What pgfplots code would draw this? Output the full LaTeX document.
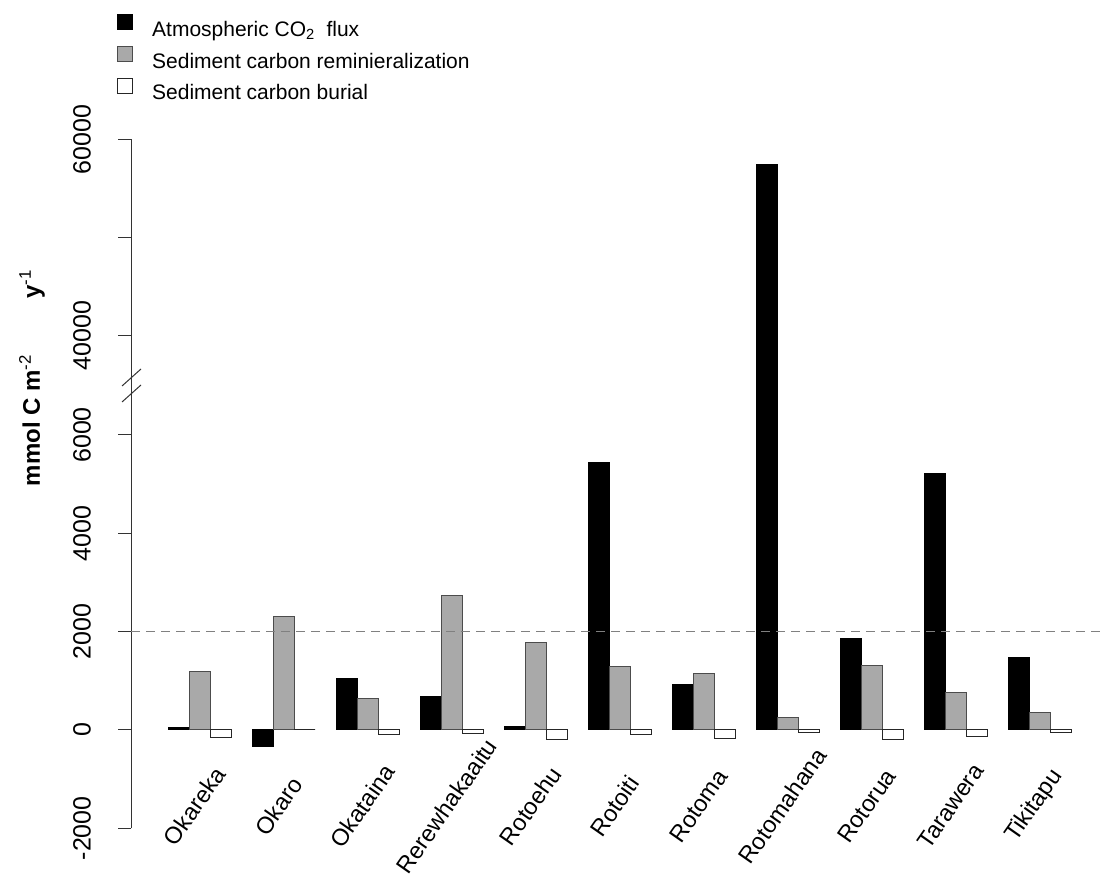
\documentclass[border=0pt]{standalone}
\usepackage{fontspec}
\setmainfont{Liberation Sans}
\usepackage{pgfplots}
\pgfplotsset{compat=1.18}
\definecolor{bargray}{RGB}{169,169,169}
\definecolor{dashgray}{RGB}{128,128,128}
\begin{document}
\begin{tikzpicture}[x=1pt,y=1pt]
\path[use as bounding box] (0,0) rectangle (1104,878);
% lower part of the broken axis
\begin{axis}[
  at={(131pt,49.7pt)}, anchor=south west,
  scale only axis, width=973pt, height=443.5pt,
  xmin=-0.762, xmax=45.571, ymin=-2000, ymax=7020,
  ybar, bar width=1,
  axis y line*=left, axis x line*=bottom,
  x axis line style={draw=none},
  y axis line style={black!80, line width=1pt},
  xtick={2.5,6.5,10.5,14.5,18.5,22.5,26.5,30.5,34.5,38.5,42.5},
  xticklabels={Okareka,Okaro,Okataina,Rerewhakaaitu,Rotoehu,Rotoiti,Rotoma,Rotomahana,Rotorua,Tarawera,Tikitapu},
  xtick style={draw=none},
  xticklabel style={font=\fontsize{23.5}{28}\selectfont, xshift=-5pt, yshift=35.3pt, rotate=55, anchor=center, inner sep=0pt},
  ytick={-2000,0,2000,4000,6000},
  yticklabels={-2000,0,2000,4000,6000},
  scaled y ticks=false,
  ytick style={black!80, line width=1pt},
  tick align=outside, major tick length=13pt,
  yticklabel style={font=\fontsize{25}{30}\selectfont, xshift=-27pt, rotate=90, anchor=south, inner sep=0pt},
  legend style={at={(axis description cs:-0.0144,1.837)}, anchor=north west,
    draw=none, fill=none, inner sep=0pt, row sep=8pt, column sep=19pt,
    font=\fontsize{21}{25}\selectfont,
    nodes={inner sep=0pt}},
  legend cell align=left,
  legend image code/.code={\draw[#1, line width=1pt, bar shift=0pt] (0pt,0pt) rectangle (15pt,15pt);},
]
\addplot[fill=black, draw=black, line width=1pt, bar shift=-1] coordinates {
  (2.5,40) (6.5,-330) (10.5,1045) (14.5,690) (18.5,65) (22.5,5435)
  (26.5,915) (30.5,57400) (34.5,1860) (38.5,5210) (42.5,1470)};
\addplot[fill=bargray, draw=black!70, line width=1pt, bar shift=0] coordinates {
  (2.5,1190) (6.5,2310) (10.5,630) (14.5,2725) (18.5,1775) (22.5,1290)
  (26.5,1150) (30.5,250) (34.5,1315) (38.5,760) (42.5,365)};
\addplot[fill=white, draw=black!85, line width=1pt, bar shift=1] coordinates {
  (2.5,-150) (6.5,0) (10.5,-100) (14.5,-80) (18.5,-185) (22.5,-100)
  (26.5,-170) (30.5,-45) (34.5,-190) (38.5,-135) (42.5,-45)};
\legend{\vphantom{Ap}Atmospheric CO\smash{\textsubscript{2}}\ \ flux, \vphantom{Ap}Sediment carbon reminieralization, \vphantom{Ap}Sediment carbon burial}
\draw[dashgray, line width=1pt, dash pattern=on 9pt off 6pt] (axis cs:-0.762,2000) -- (axis cs:45.571,2000);
\end{axis}
% upper part of the broken axis
\begin{axis}[
  at={(131pt,493.2pt)}, anchor=south west,
  scale only axis, width=973pt, height=245.4pt,
  xmin=-0.762, xmax=45.571, ymin=35000, ymax=60000,
  ybar, bar width=1,
  axis y line*=left, axis x line=none,
  y axis line style={black!80, line width=1pt},
  xtick=\empty,
  ytick={40000,50000,60000},
  yticklabels={40000,,60000},
  scaled y ticks=false,
  ytick style={black!80, line width=1pt},
  tick align=outside, major tick length=13pt,
  yticklabel style={font=\fontsize{25}{30}\selectfont, xshift=-27pt, rotate=90, anchor=south, inner sep=0pt},
]
\addplot[fill=black, draw=black, line width=1pt, bar shift=-1, restrict y to domain=30000:100000] coordinates {
  (2.5,40) (6.5,-330) (10.5,1045) (14.5,690) (18.5,65) (22.5,5435)
  (26.5,915) (30.5,57400) (34.5,1860) (38.5,5210) (42.5,1470)};
\end{axis}
% axis break marks
\draw[black!80, line width=1pt] (122,492) -- (141,509);
\draw[black!80, line width=1pt] (122,476) -- (141,493);
% y axis title
\node[rotate=90, font=\fontsize{24}{29}\selectfont] at (32,500) {\textbf{mmol C m}\textsuperscript{-2}\hspace{56pt}\textbf{y}\textsuperscript{-1}};
\end{tikzpicture}
\end{document}
